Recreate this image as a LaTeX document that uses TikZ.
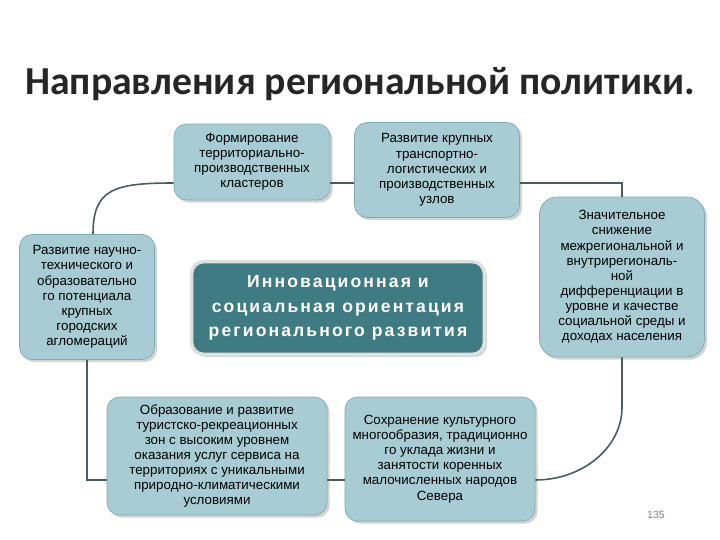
\documentclass[tikz,border=0pt]{standalone}
\usepackage{fontspec}
\setmainfont{Liberation Sans}
\newfontfamily\titlefont{Carlito}
\newfontfamily\centerfont[LetterSpace=12]{Liberation Sans}
\usepackage{tikz}
\usetikzlibrary{shadows}
\definecolor{boxfill}{HTML}{A8CCD3}
\definecolor{boxline}{HTML}{7FA9B3}
\definecolor{corefill}{HTML}{3F7B82}
\definecolor{linkgray}{HTML}{4A5A5E}

\begin{document}
\begin{tikzpicture}[x=0.02cm,y=-0.02cm,
  dirbox/.style={draw=boxline,fill=boxfill,rounded corners=0.25cm,align=center,
    inner sep=2pt,font=\fontsize{7.6}{8.6}\selectfont,
    drop shadow={shadow xshift=1.5pt,shadow yshift=-1.5pt,opacity=0.35}},
  link/.style={draw=linkgray,line width=0.9pt}]
  \useasboundingbox (0,0) rectangle (720,540);
  \node[anchor=base,font=\titlefont\bfseries\fontsize{22.6}{26}\selectfont,text=black!85]
    (title) at (360,95) {Направления региональной политики.};
  \node[dirbox,minimum width=3.12cm,minimum height=1.52cm] (b1) at (252,162)
    {Формирование\\территориально-\\производственных\\кластеров};
  \node[dirbox,minimum width=3.3cm,minimum height=1.9cm] (b2) at (437,170)
    {Развитие крупных\\транспортно-\\логистических и\\производственных\\узлов};
  \node[dirbox,minimum width=3.3cm,minimum height=3.2cm,rounded corners=0.35cm] (b3) at (622,277)
    {Значительное\\снижение\\межрегиональной и\\внутрирегиональ-\\ной\\дифференциации в\\уровне и качестве\\социальной среды и\\доходах населения};
  \node[dirbox,minimum width=2.7cm,minimum height=2.5cm] (b4) at (87,297)
    {Развитие научно-\\технического и\\образовательно\\го потенциала\\крупных\\городских\\агломераций};
  \node[draw=gray!25,line width=2pt,fill=corefill,rounded corners=0.25cm,align=center,
        minimum width=5.86cm,minimum height=1.86cm,text=white,
        font=\centerfont\bfseries\fontsize{10}{14}\selectfont,
        drop shadow={shadow xshift=1.5pt,shadow yshift=-1.5pt,opacity=0.35}] (core) at (338,308)
    {Инновационная и\\социальная ориентация\\регионального развития};
  \node[dirbox,minimum width=4.4cm,minimum height=2.36cm] (b5) at (217,456)
    {Образование и развитие\\туристско-рекреационных\\зон с высоким уровнем\\оказания услуг сервиса на\\территориях с уникальными\\природно-климатическими\\условиями};
  \node[dirbox,minimum width=3.8cm,minimum height=2.48cm] (b6) at (440,459)
    {Сохранение культурного\\многообразия, традиционно\\го уклада жизни и\\занятости коренных\\малочисленных народов\\Севера};
  \node[font=\fontsize{6}{7}\selectfont,text=gray] (pagenum) at (656,515) {135};

  \coordinate (k0) at ([yshift=-0.42cm]b1.west);
  \coordinate (k1) at ([yshift=-0.42cm]b1.east);
  \coordinate (k2) at ([yshift=-0.42cm]b6.east);
  \draw[link] (k0) .. controls +(-1.2cm,0) and +(0,0.9cm) .. ([xshift=0.12cm]b4.north);
  \draw[link] (k1) -- (k1 -| b2.west);
  \draw[link] (k1 -| b2.east) -| (b3.north);
  \draw[link] (b3.south) -- ++(0,-1cm) .. controls +(0,-0.8cm) and +(0.95cm,0) .. (k2);
  \draw[link] (k2 -| b5.east) -- (k2 -| b6.west);
  \draw[link] (b4.south) |- (k2 -| b5.west);
\end{tikzpicture}
\end{document}
